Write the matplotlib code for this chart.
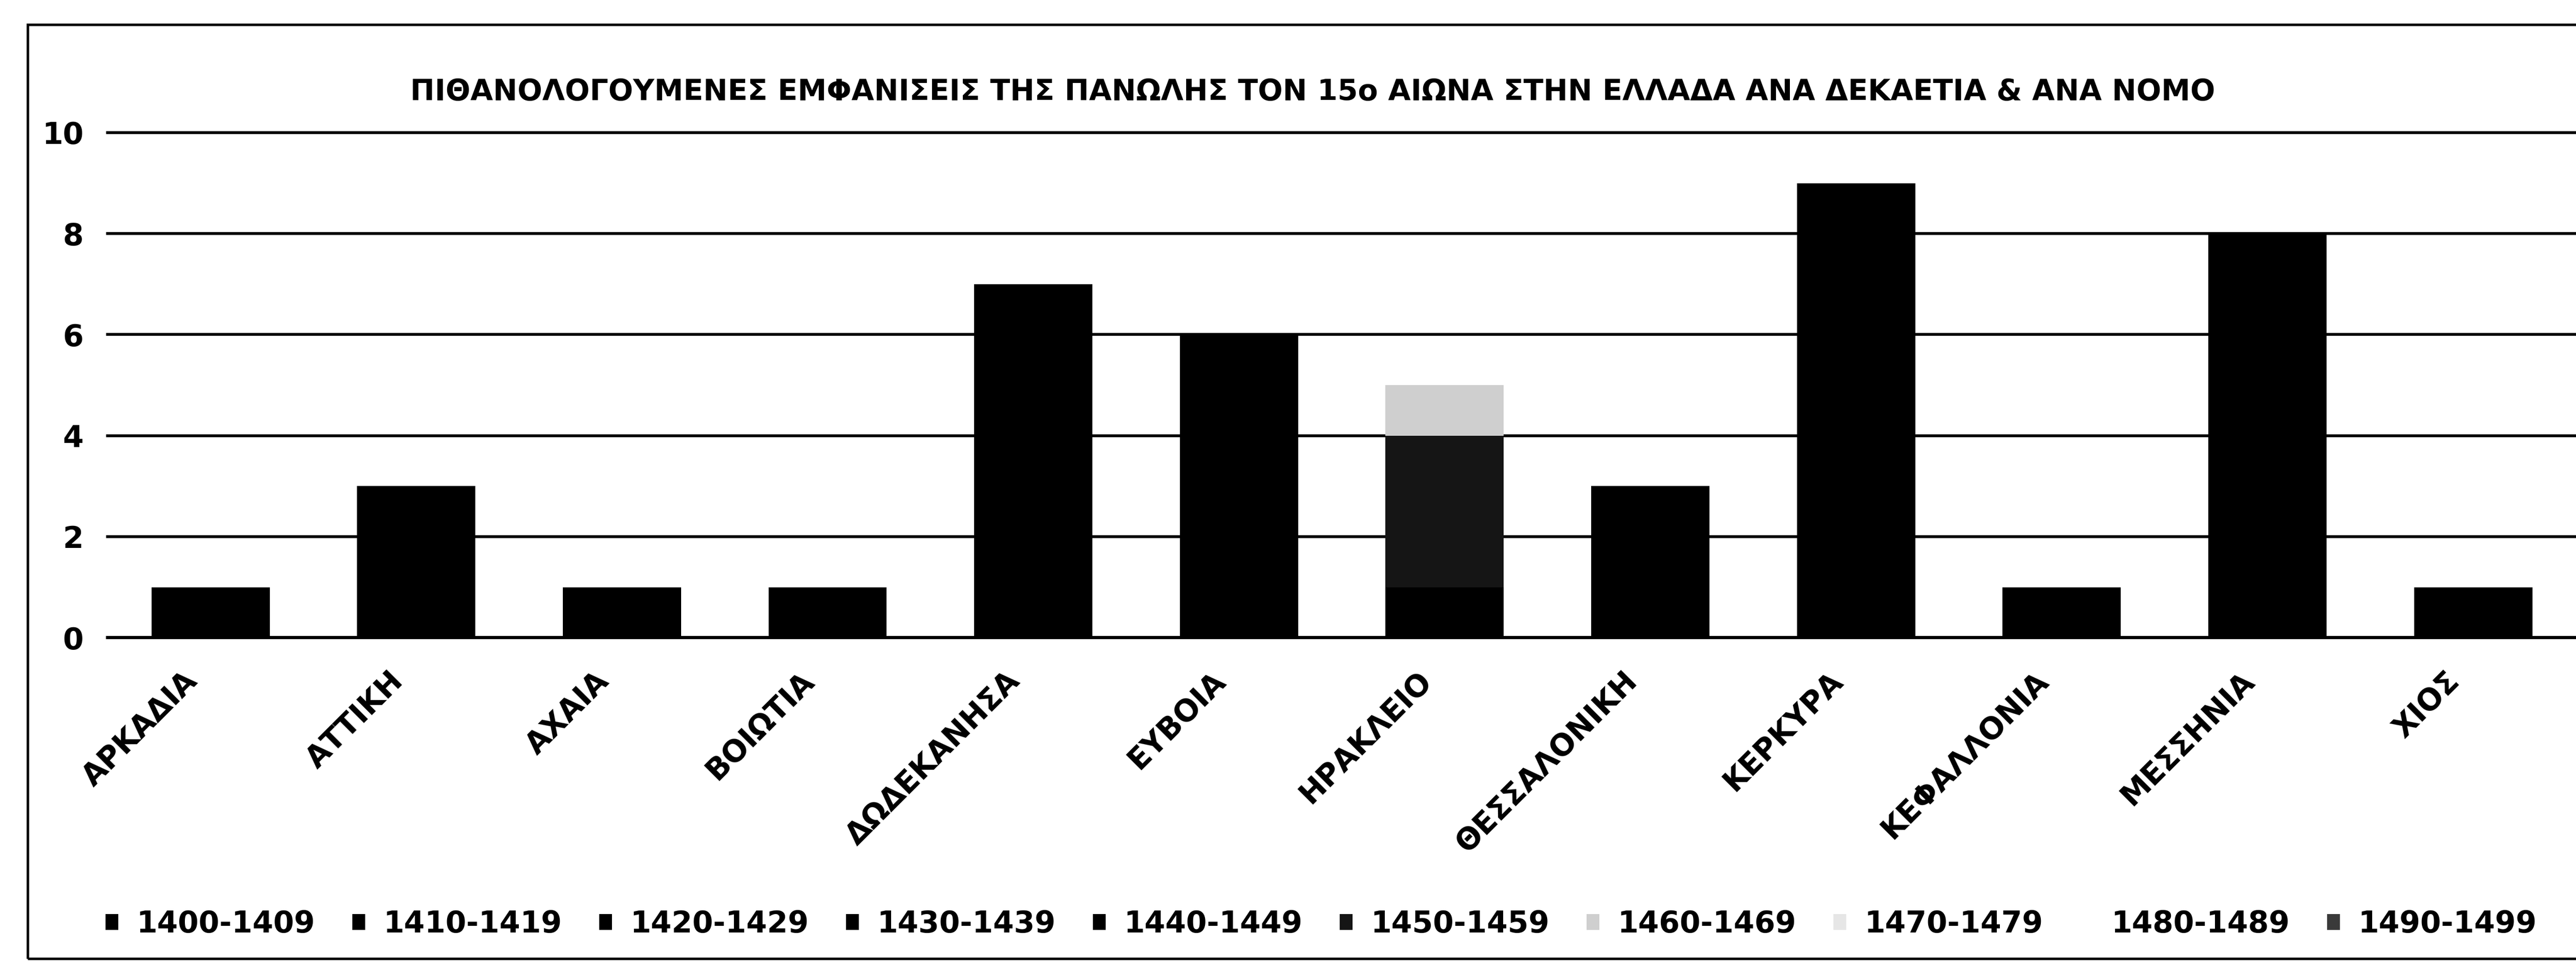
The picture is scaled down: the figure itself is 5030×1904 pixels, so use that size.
import matplotlib
matplotlib.use("Agg")
import matplotlib.pyplot as plt
from matplotlib.patches import Rectangle
from matplotlib.transforms import ScaledTranslation
import numpy as np

# Nomoi (prefectures) on the x axis
nomoi = ['ΑΡΚΑΔΙΑ', 'ΑΤΤΙΚΗ', 'ΑΧΑΙΑ', 'ΒΟΙΩΤΙΑ', 'ΔΩΔΕΚΑΝΗΣΑ', 'ΕΥΒΟΙΑ',
         'ΗΡΑΚΛΕΙΟ', 'ΘΕΣΣΑΛΟΝΙΚΗ', 'ΚΕΡΚΥΡΑ', 'ΚΕΦΑΛΛΟΝΙΑ', 'ΜΕΣΣΗΝΙΑ', 'ΧΙΟΣ']

decades = ['1400-1409', '1410-1419', '1420-1429', '1430-1439', '1440-1449',
           '1450-1459', '1460-1469', '1470-1479', '1480-1489', '1490-1499']

# appearances per decade (stacked)
d1400 = [0, 1, 0, 0, 1, 1, 0, 0, 1, 0, 1, 0]
d1410 = [1, 0, 0, 0, 1, 1, 0, 1, 1, 0, 1, 0]
d1420 = [0, 1, 1, 0, 2, 1, 1, 0, 2, 0, 2, 0]
d1430 = [0, 1, 0, 1, 2, 2, 0, 1, 3, 1, 2, 0]
d1440 = [0, 0, 0, 0, 1, 1, 0, 1, 2, 0, 2, 1]
d1450 = [0, 0, 0, 0, 0, 0, 3, 0, 0, 0, 0, 0]
d1460 = [0, 0, 0, 0, 0, 0, 1, 0, 0, 0, 0, 0]
d1470 = [0, 0, 0, 0, 0, 0, 0, 0, 0, 0, 0, 0]
d1480 = [0, 0, 0, 0, 0, 0, 0, 0, 0, 0, 0, 0]
d1490 = [0, 0, 0, 0, 0, 0, 0, 0, 0, 0, 0, 0]

series = [d1400, d1410, d1420, d1430, d1440, d1450, d1460, d1470, d1480, d1490]
# scanned b/w look: most decades come out black
colors = ['black', 'black', 'black', 'black', 'black',
          '#151515', '#cfcfcf', '#e6e6e6', 'white', '#3a3a3a']

title = 'ΠΙΘΑΝΟΛΟΓΟΥΜΕΝΕΣ ΕΜΦΑΝΙΣΕΙΣ ΤΗΣ ΠΑΝΩΛΗΣ ΤΟΝ 15ο ΑΙΩΝΑ ΣΤΗΝ ΕΛΛΑΔΑ ΑΝΑ ΔΕΚΑΕΤΙΑ & ΑΝΑ ΝΟΜΟ'

plt.rcParams['font.family'] = ['DejaVu Sans']
plt.rcParams['font.weight'] = 'bold'
FS = 42

fig = plt.figure(figsize=(50.3, 19.04), dpi=100, facecolor='white')
ax = fig.add_axes([0.0418, 0.346, 0.9582, 0.518])

x = np.arange(len(nomoi))
bottom = np.zeros(len(nomoi))
for vals, lab, col in zip(series, decades, colors):
    ax.bar(x, vals, width=0.575, bottom=bottom, color=col, label=lab,
           linewidth=0, zorder=3)
    bottom += np.array(vals)

ax.set_xlim(-0.5, len(nomoi) - 0.5)
ax.set_ylim(0, 10)
ax.set_yticks([0, 2, 4, 6, 8, 10])
ax.yaxis.grid(True, color='black', linewidth=4, zorder=0)
for gl in ax.get_ygridlines():
    gl.set_clip_on(False)
ax.set_axisbelow(True)
for s in ['top', 'right', 'left']:
    ax.spines[s].set_visible(False)
ax.spines['bottom'].set_linewidth(4.5)
ax.spines['bottom'].set_zorder(4)
ax.tick_params(axis='y', length=0, pad=34, labelsize=FS)
ax.tick_params(axis='x', length=0, pad=40, labelsize=FS)

ax.set_xticks(x)
ax.set_xticklabels(nomoi, rotation=45, ha='right', va='top',
                   rotation_mode='anchor', fontweight='bold')
shift = ScaledTranslation(-0.55, 0, fig.dpi_scale_trans)
for lbl in ax.get_xticklabels():
    lbl.set_transform(lbl.get_transform() + shift)
for lbl in ax.get_yticklabels():
    lbl.set_fontweight('bold')

fig.text(0.5096, 0.905, title, ha='center', va='center', fontsize=41,
         fontweight='bold')

leg = fig.legend(loc='center left', bbox_to_anchor=(0.041, 0.052), ncol=10,
                 frameon=False, fontsize=FS, handlelength=0.43,
                 handleheight=0.43, handletextpad=0.6, columnspacing=1.25,
                 borderpad=0, borderaxespad=0)
for t in leg.get_texts():
    t.set_fontweight('bold')

# outer chart frame (right side runs off the scan)
fig.patches.append(Rectangle((0.0107, 0.017), 1.2, 0.958, transform=fig.transFigure,
                             fill=False, edgecolor='black', linewidth=3.5))

fig.savefig('out.png', dpi=100, facecolor='white')
